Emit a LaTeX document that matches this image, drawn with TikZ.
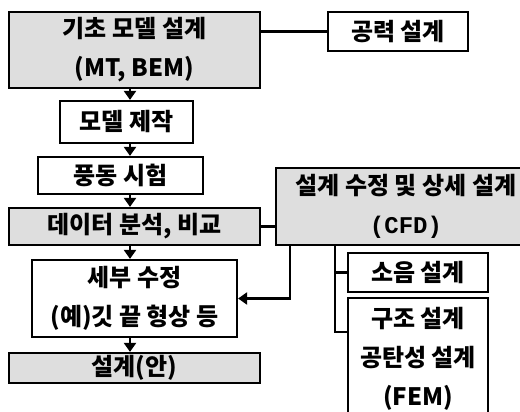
\documentclass[tikz,border=0pt]{standalone}
\usepackage{fontspec}
\setmainfont{Noto Sans CJK KR}
\newfontfamily\monob{Liberation Mono}
\usetikzlibrary{arrows.meta,calc}
\begin{document}
\begin{tikzpicture}[x=1pt,y=-1pt,
  box/.style={draw=black,line width=2.2pt,rectangle,inner sep=0pt,align=center,
    font=\bfseries\fontsize{24pt}{39pt}\selectfont},
  shaded/.style={box,fill=black!13},
  plain/.style={box,fill=white},
  conn/.style={line width=2.2pt},
  arr/.style={conn,-{Triangle[width=12pt,length=9pt]}}]
\useasboundingbox (0,0) rectangle (520,412);
\clip (0,0) rectangle (520,412);
\fill[white] (0,0) rectangle (520,412);
% left column
\node[shaded,minimum width=251pt,minimum height=76pt] (base) at (134.5,50) {기초 모델 설계\\(MT, BEM)};
\node[plain,minimum width=140pt,minimum height=39pt] (gong) at (398,31.5) {공력 설계};
\node[plain,minimum width=133pt,minimum height=42pt] (model) at (126.5,122) {모델 제작};
\node[plain,minimum width=165pt,minimum height=37pt] (wind) at (120.5,175.5) {풍동 시험};
\node[shaded,minimum width=251pt,minimum height=37pt] (data) at (134.5,226.5) {데이터 분석, 비교};
\node[plain,minimum width=205pt,minimum height=77pt] (sebu) at (134.5,298.5) {세부 수정\\(예)깃 끝 형상 등};
\node[shaded,minimum width=251pt,minimum height=30pt] (plan) at (134.5,368) {설계(안)};
% right column
\node[shaded,minimum width=260pt,minimum height=77pt] (cfd) at (406,206.5) {설계 수정 및 상세 설계\\{\monob (CFD)}};
\node[plain,minimum width=140pt,minimum height=39pt] (noise) at (418,272.5) {소음 설계};
\node[plain,minimum width=140pt,minimum height=122pt] (struct) at (418,359) {구조 설계\\공탄성 설계\\(FEM)};
% coordinates
\coordinate (ax) at (130,0);
\coordinate (bus1) at (290,0);
\coordinate (bus2) at (335,0);
\coordinate (sin) at ($(struct.north west)+(0,35)$);
% connectors
\draw[conn] (gong.west -| base.east) -- (gong.west);
\draw[arr] (base.south -| ax) -- (model.north -| ax);
\draw[arr] (model.south -| ax) -- (wind.north -| ax);
\draw[arr] (wind.south -| ax) -- (data.north -| ax);
\draw[arr] (data.south -| ax) -- (sebu.north -| ax);
\draw[arr] (sebu.south -| ax) -- (plan.north -| ax);
\draw[conn] (data.east) -- (data.east -| cfd.west);
\draw[arr] (cfd.south -| bus1) |- (sebu.east);
\draw[conn] (cfd.south -| bus2) |- (noise.west);
\draw[conn] (cfd.south -| bus2) |- (sin);
\end{tikzpicture}
\end{document}
